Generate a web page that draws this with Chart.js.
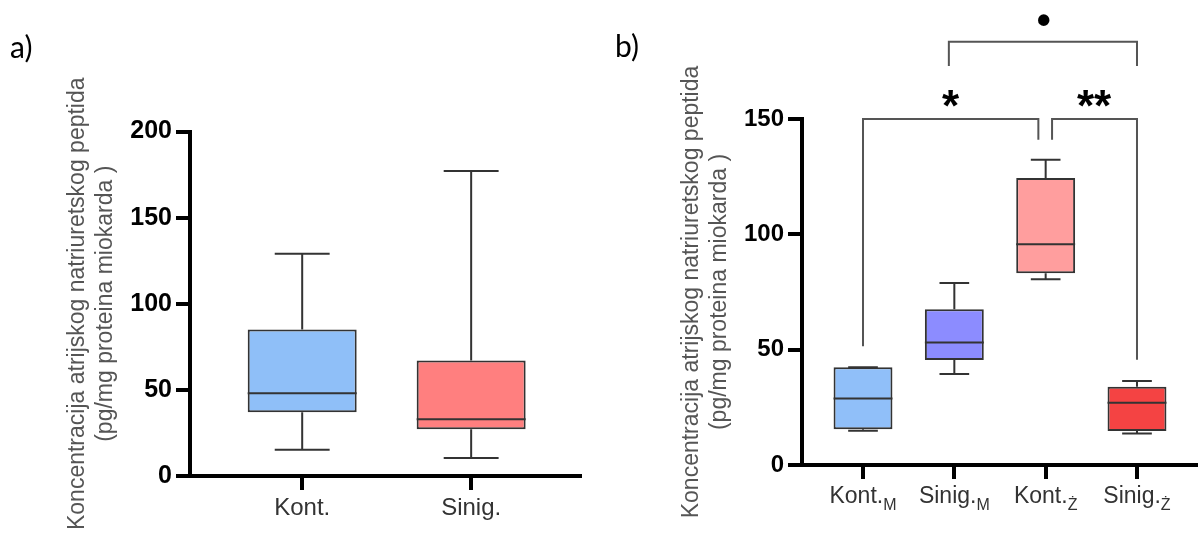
<!DOCTYPE html>
<html>
<head>
<meta charset="utf-8">
<script src="https://cdn.jsdelivr.net/npm/chart.js@4.4.1/dist/chart.umd.min.js"></script>
<style>
  body { margin: 0; background: #fff; }
  #wrap { position: relative; width: 1198px; height: 533px; }
  canvas { position: absolute; top: 0; }
</style>
</head>
<body>
<div id="wrap">
  <canvas id="chartA" width="600" height="533" style="left:0"></canvas>
  <canvas id="chartB" width="598" height="533" style="left:600px"></canvas>
</div>
<script>
// a) two groups
const groupsA = ['Kont.', 'Sinig.'];
const minA = [15.3, 10.4];
const q1A = [37, 27.2];
const medianA = [48, 33];
const q3A = [85, 67];
const maxA = [129, 177];
const ticksA = [0, 50, 100, 150, 200];

// b) four groups, label + subscript
const groupsB = ['Kont.', 'Sinig.', 'Kont.', 'Sinig.'];
const subsB = ['M', 'M', 'Ż', 'Ż'];
const minB = [14.9, 39.4, 80.5, 13.7];
const q1B = [15.5, 45.5, 83.1, 14.7];
const medianB = [28.8, 53.1, 95.7, 27];
const q3B = [42.4, 67.5, 124.4, 33.9];
const maxB = [42.4, 78.9, 132.3, 36.4];
const ticksB = [0, 50, 100, 150];

// significance brackets in b) (x in group positions, y in data units)
const bracketFrom = [1, 3.07, 1.94];
const bracketTo = [2.92, 4, 4];
const bracketTop = [150, 150, 183.5];
const legFromEnd = [51.5, 141, 173];
const legToEnd = [141, 45.6, 173];
const marks = ['*', '**', '•'];
const markX = [1.96, 3.53, 2.98];
const markY = [159, 159, 193];

const yTitle = ['Koncentracija atrijskog natriuretskog peptida', '(pg/mg proteina miokarda )'];

const FONT = '"Liberation Sans", Arial, sans-serif';
const BOX_W = 0.645;
const CAP_W = 0.325;
Chart.defaults.font.family = FONT;

function boxData(q1, q3) {
  return q1.map((v, i) => ({ x: i + 1, y: [v, q3[i]] }));
}

function whiskerPlugin(mins, q1s, meds, q3s, maxs) {
  return {
    id: 'whiskers',
    afterDatasetsDraw(chart) {
      const { ctx, scales: { x, y } } = chart;
      ctx.save();
      ctx.strokeStyle = '#333';
      ctx.lineWidth = 2;
      mins.forEach((lo, i) => {
        const cx = x.getPixelForValue(i + 1);
        const capHalf = x.getPixelForValue(i + 1 + CAP_W / 2) - cx;
        const boxHalf = x.getPixelForValue(i + 1 + BOX_W / 2) - cx;
        const yMax = y.getPixelForValue(maxs[i]);
        const yMin = y.getPixelForValue(lo);
        const yMed = y.getPixelForValue(meds[i]);
        ctx.beginPath();
        ctx.moveTo(cx, y.getPixelForValue(q3s[i]));
        ctx.lineTo(cx, yMax);
        ctx.moveTo(cx - capHalf, yMax);
        ctx.lineTo(cx + capHalf, yMax);
        ctx.moveTo(cx, y.getPixelForValue(q1s[i]));
        ctx.lineTo(cx, yMin);
        ctx.moveTo(cx - capHalf, yMin);
        ctx.lineTo(cx + capHalf, yMin);
        ctx.moveTo(cx - boxHalf, yMed);
        ctx.lineTo(cx + boxHalf, yMed);
        ctx.stroke();
      });
      ctx.restore();
    }
  };
}

function panelLabel(text, px, py) {
  return {
    id: 'panelLabel',
    afterDraw(chart) {
      const ctx = chart.ctx;
      ctx.save();
      ctx.font = '30px Lato, "Open Sans", sans-serif';
      ctx.fillStyle = '#000';
      ctx.textAlign = 'left';
      ctx.textBaseline = 'alphabetic';
      ctx.fillText(text, px, py);
      ctx.restore();
    }
  };
}

const bracketPlugin = {
  id: 'brackets',
  afterDraw(chart) {
    const { ctx, scales: { x, y } } = chart;
    ctx.save();
    ctx.strokeStyle = '#555';
    ctx.lineWidth = 2;
    bracketFrom.forEach((x1, i) => {
      const px1 = x.getPixelForValue(x1);
      const px2 = x.getPixelForValue(bracketTo[i]);
      const top = y.getPixelForValue(bracketTop[i]);
      ctx.beginPath();
      ctx.moveTo(px1, y.getPixelForValue(legFromEnd[i]));
      ctx.lineTo(px1, top);
      ctx.lineTo(px2, top);
      ctx.lineTo(px2, y.getPixelForValue(legToEnd[i]));
      ctx.stroke();
    });
    ctx.fillStyle = '#000';
    ctx.textAlign = 'center';
    ctx.textBaseline = 'alphabetic';
    marks.forEach((t, i) => {
      ctx.font = (t === '•' ? 'bold 40px ' : 'bold 44px ') + FONT;
      const m = ctx.measureText(t);
      const cx = x.getPixelForValue(markX[i]);
      const cy = y.getPixelForValue(markY[i]);
      ctx.fillText(t, cx, cy + (m.actualBoundingBoxAscent - m.actualBoundingBoxDescent) / 2);
    });
    ctx.restore();
  }
};

// x labels of b) with subscripts
const subLabels = {
  id: 'subLabels',
  afterDraw(chart) {
    const { ctx, scales: { x } } = chart;
    ctx.save();
    ctx.fillStyle = '#333';
    ctx.textAlign = 'left';
    ctx.textBaseline = 'alphabetic';
    groupsB.forEach((g, i) => {
      ctx.font = '23px ' + FONT;
      const w1 = ctx.measureText(g).width;
      ctx.font = '16px ' + FONT;
      const w2 = ctx.measureText(subsB[i]).width;
      const start = x.getPixelForValue(i + 1) - (w1 + w2) / 2;
      ctx.font = '23px ' + FONT;
      ctx.fillText(g, start, 503);
      ctx.font = '16px ' + FONT;
      ctx.fillText(subsB[i], start + w1, 510);
    });
    ctx.restore();
  }
};

function axisGrid() {
  return { offset: false, drawOnChartArea: false, drawTicks: true, tickLength: 14, tickWidth: 4, tickColor: '#000', lineWidth: 0 };
}

new Chart(document.getElementById('chartA'), {
  type: 'bar',
  data: {
    datasets: [{
      data: boxData(q1A, q3A),
      backgroundColor: ['#8fbff8', '#ff7f7f'],
      borderColor: '#333',
      borderWidth: 2,
      borderSkipped: false,
      barPercentage: BOX_W,
      categoryPercentage: 1
    }]
  },
  options: {
    responsive: false,
    animation: false,
    devicePixelRatio: 1,
    layout: { padding: { left: 0, top: 131.5, right: 18, bottom: 0 } },
    plugins: { legend: { display: false }, tooltip: { enabled: false } },
    scales: {
      x: {
        type: 'linear',
        offset: false,
        min: 0.336,
        max: 2.656,
        afterBuildTicks: s => { s.ticks = groupsA.map((g, i) => ({ value: i + 1 })); },
        afterFit: s => { s.height = 57; },
        ticks: {
          callback: v => groupsA[v - 1],
          autoSkip: false,
          maxRotation: 0,
          font: { size: 24 },
          color: '#333',
          padding: 4
        },
        grid: axisGrid(),
        border: { width: 4, color: '#000' }
      },
      y: {
        min: 0,
        max: 200,
        afterBuildTicks: s => { s.ticks = ticksA.map(v => ({ value: v })); },
        afterFit: s => { s.width = 190; },
        ticks: { font: { size: 25, weight: 'bold' }, color: '#000', padding: 4 },
        grid: axisGrid(),
        border: { width: 4, color: '#000' },
        title: {
          display: true,
          text: yTitle,
          color: '#555',
          font: { size: 23, lineHeight: 1.2 },
          padding: { top: 64, bottom: 0 }
        }
      }
    }
  },
  plugins: [whiskerPlugin(minA, q1A, medianA, q3A, maxA), panelLabel('a)', 10, 58)]
});

new Chart(document.getElementById('chartB'), {
  type: 'bar',
  data: {
    datasets: [{
      data: boxData(q1B, q3B),
      backgroundColor: ['#90bff9', '#8c8cff', '#ff9e9e', '#f44343'],
      borderColor: '#333',
      borderWidth: 2,
      borderSkipped: false,
      barPercentage: BOX_W,
      categoryPercentage: 1
    }]
  },
  options: {
    responsive: false,
    animation: false,
    devicePixelRatio: 1,
    layout: { padding: { left: 0, top: 119, right: 0, bottom: 0 } },
    plugins: { legend: { display: false }, tooltip: { enabled: false } },
    scales: {
      x: {
        type: 'linear',
        offset: false,
        min: 0.332,
        max: 4.668,
        afterBuildTicks: s => { s.ticks = groupsB.map((g, i) => ({ value: i + 1 })); },
        afterFit: s => { s.height = 68; },
        ticks: { display: false },
        grid: axisGrid(),
        border: { width: 4, color: '#000' }
      },
      y: {
        min: 0,
        max: 150,
        afterBuildTicks: s => { s.ticks = ticksB.map(v => ({ value: v })); },
        afterFit: s => { s.width = 202; },
        ticks: { font: { size: 24, weight: 'bold' }, color: '#000', padding: 4 },
        grid: axisGrid(),
        border: { width: 4, color: '#000' },
        title: {
          display: true,
          text: yTitle,
          color: '#555',
          font: { size: 23, lineHeight: 1.2 },
          padding: { top: 78, bottom: 0 }
        }
      }
    }
  },
  plugins: [whiskerPlugin(minB, q1B, medianB, q3B, maxB), bracketPlugin, subLabels, panelLabel('b)', 15, 57)]
});
</script>
</body>
</html>
